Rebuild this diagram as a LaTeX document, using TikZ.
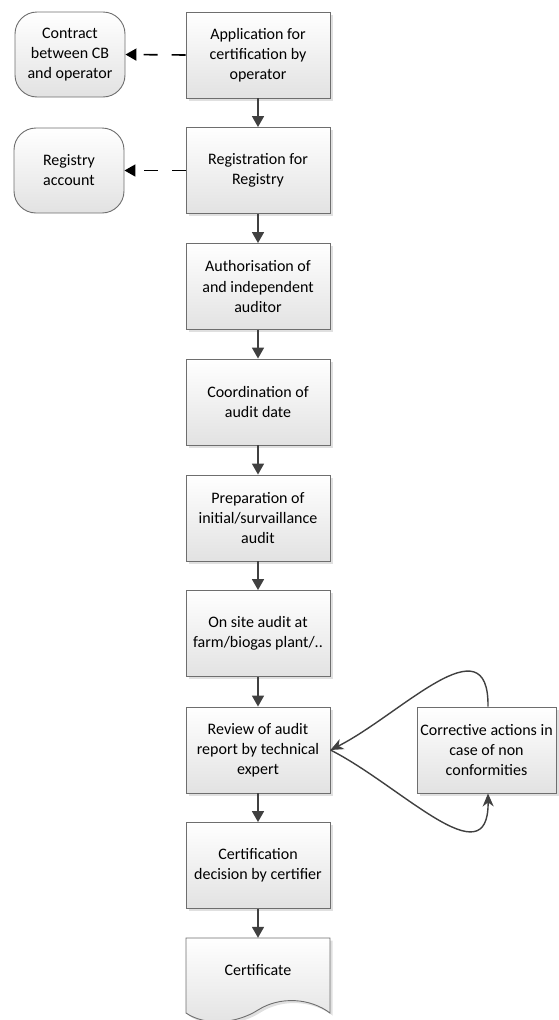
\documentclass[tikz,border=0pt]{standalone}
\usepackage{fontspec}
\setmainfont{Carlito}
\usetikzlibrary{arrows.meta,shadows}
\definecolor{edge}{HTML}{6E6E6E}
\definecolor{ink}{HTML}{404040}
\definecolor{fillbot}{HTML}{E2E2E2}
\tikzset{
  boxtext/.style={align=center, font=\fontsize{16}{20}\selectfont, text=black},
  stepbox/.style={boxtext, draw=edge, line width=0.9pt, top color=white, bottom color=fillbot,
    minimum width=144pt, minimum height=86pt, inner sep=0pt,
    drop shadow={shadow xshift=2.5pt, shadow yshift=-2.5pt, fill=black, opacity=0.12}},
  sidebox/.style={boxtext, draw=edge, line width=0.9pt, top color=white, bottom color=fillbot,
    rounded corners=22pt, minimum width=110pt, minimum height=85pt, inner sep=0pt},
  flow/.style={draw=ink, line width=1.6pt, -{Triangle[length=11pt,width=12pt]}},
  sideflow/.style={draw=black, line width=1.6pt, dash pattern=on 14pt off 14pt,
    -{Triangle[length=11pt,width=12pt]}},
  loopflow/.style={draw=ink, line width=1.4pt, -{Stealth[length=13pt,width=11pt,inset=4pt]}}
}
\begin{document}
\begin{tikzpicture}[x=1pt,y=-1pt]
\useasboundingbox (0,0) rectangle (558,1020);

% main column
\node[stepbox] (app)  at (258,55)    {Application for\\certification by\\operator};
\node[stepbox] (reg)  at (258,170.5) {Registration for\\Registry};
\node[stepbox] (auth) at (258,286.5) {Authorisation of\\and independent\\auditor};
\node[stepbox] (coord) at (258,402)  {Coordination of\\audit date};
\node[stepbox] (prep) at (258,518)   {Preparation of\\initial/survaillance\\audit};
\node[stepbox] (site) at (258,633.5) {On site audit at\\farm/biogas plant/..};
\node[stepbox] (rev)  at (258,750)   {Review of audit\\report by technical\\expert};
\node[stepbox] (dec)  at (258,865.5) {Certification\\decision by certifier};

% certificate document shape
\fill[black, opacity=0.12, shift={(2.5,2.5)}]
  (186,938) -- (330,938) -- (330,1013)
  .. controls (310,998) and (280,996) .. (258,1010)
  .. controls (236,1024) and (205,1026) .. (186,1013) -- cycle;
\path[draw=edge, line width=0.9pt, top color=white, bottom color=fillbot]
  (186,938) -- (330,938) -- (330,1013)
  .. controls (310,998) and (280,996) .. (258,1010)
  .. controls (236,1024) and (205,1026) .. (186,1013) -- cycle;
\node[boxtext, minimum width=144pt, minimum height=64pt, inner sep=0pt] (cert) at (258,970) {Certificate};

% side boxes
\node[sidebox] (contract) at (70,54.5)  {Contract\\between CB\\and operator};
\node[sidebox] (acct)     at (69,170.5) {Registry\\account};
\node[stepbox, minimum width=139pt] (corr) at (486.5,750) {Corrective actions in\\case of non\\conformities};

% main flow
\draw[flow] (app) -- (reg);
\draw[flow] (reg) -- (auth);
\draw[flow] (auth) -- (coord);
\draw[flow] (coord) -- (prep);
\draw[flow] (prep) -- (site);
\draw[flow] (site) -- (rev);
\draw[flow] (rev) -- (dec);
\draw[flow] (dec.south) -- (cert.north);

% dashed links to the side
\draw[sideflow] (app.west) -- (contract.east);
\draw[sideflow] (reg.west) -- (acct.east);

% correction loop
\draw[loopflow] ([xshift=1.5pt]corr.north) .. controls (489,620) and (400,715) .. (rev.east);
\draw[loopflow] (rev.east) .. controls (400,785) and (489,880) .. ([xshift=1.5pt]corr.south);
\end{tikzpicture}
\end{document}
